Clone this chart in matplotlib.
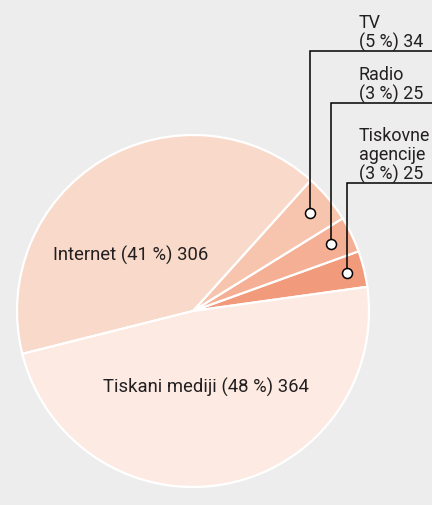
import matplotlib
matplotlib.use('Agg')
import matplotlib.pyplot as plt
import numpy as np

plt.rcParams['font.family'] = ['Roboto', 'DejaVu Sans']

# data (counter-clockwise from the first wedge)
labels = ['Tiskovne agencije', 'Radio', 'TV', 'Internet', 'Tiskani mediji']
values = [25, 25, 34, 306, 364]
percents = [3, 3, 5, 41, 48]
colors = ['#f29b7c', '#f5af94', '#f7c4ad', '#f9d9ca', '#fdebe3']

bg = '#ecedec'
txt = '#231f20'
fs = 13.3

fig = plt.figure(figsize=(4.32, 5.06), dpi=100, facecolor=bg)
ax = fig.add_axes([0, 0, 1, 1])
ax.set_facecolor(bg)

cx, cy, R = 193, 506 - 312, 176
wedges, _ = ax.pie(values, colors=colors, startangle=7.9, counterclock=True,
                   center=(cx, cy), radius=R,
                   wedgeprops=dict(edgecolor='white', linewidth=1.6))
ax.set_xlim(0, 432)
ax.set_ylim(0, 506)
ax.set_aspect('equal')
ax.axis('off')

# inner labels for the big slices
inner = {3: (131, 506 - 255), 4: (206, 506 - 387)}
for i, (x, y) in inner.items():
    ax.text(x, y, f'{labels[i]} ({percents[i]} %) {values[i]}', ha='center',
            va='center', fontsize=fs, color=txt)

# callouts for the small slices: (slice index, elbow y, text top y, text label, dot radius frac)
callouts = [
    (2, 506 - 52, 506 - 14, 'TV', 0.87),
    (1, 506 - 104, 506 - 66, 'Radio', 0.87),
    (0, 506 - 184, 506 - 127, 'Tiskovne\nagencije', 0.90),
]
for i, y_elbow, y_text, name, frac in callouts:
    w = wedges[i]
    mid = np.deg2rad((w.theta1 + w.theta2) / 2)
    dx = cx + frac * R * np.cos(mid)
    dy = cy + frac * R * np.sin(mid)
    ax.plot([dx, dx, 440], [dy, y_elbow, y_elbow], color='black', lw=1.1,
            solid_joinstyle='miter', zorder=3, clip_on=False)
    ax.plot(dx, dy, 'o', ms=7.2, mfc='white', mec='black', mew=1.1, zorder=4)
    ax.text(359, y_text, f'{name}\n({percents[i]} %) {values[i]}', ha='left',
            va='top', fontsize=12.9, color=txt, linespacing=1.05)

fig.savefig('out.png', dpi=100, facecolor=bg)
